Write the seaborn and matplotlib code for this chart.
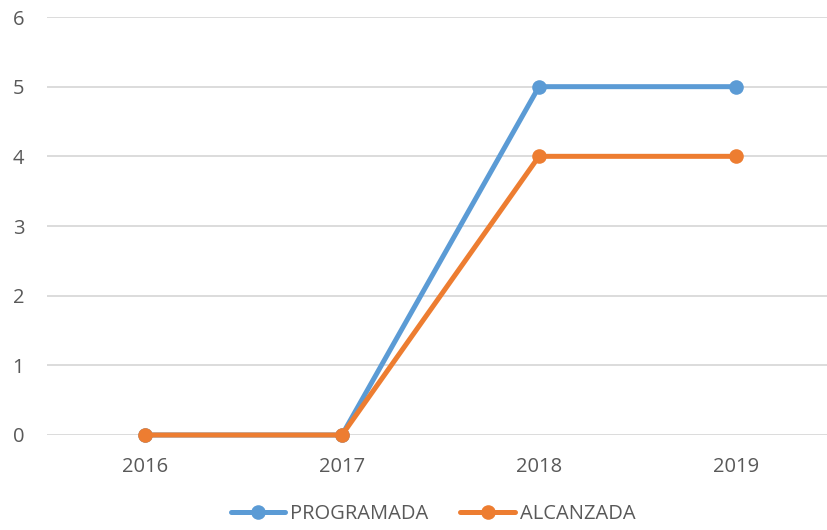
import numpy as np
import pandas as pd
import matplotlib
matplotlib.use('Agg')
import matplotlib.pyplot as plt
import seaborn as sns

sns.set_style('white')
plt.rcParams['font.family'] = ['Open Sans', 'DejaVu Sans']

# datos
anios = ['2016', '2017', '2018', '2019']
programada = [0, 0, 5, 5]
alcanzada = [0, 0, 4, 4]

df = pd.DataFrame({'anio': anios, 'PROGRAMADA': programada, 'ALCANZADA': alcanzada})

azul = '#5B9BD5'
naranja = '#ED7D31'
gris_txt = '#595959'

fig = plt.figure(figsize=(8.27, 5.30), dpi=100)
# area de trazado (se sale un poco por la derecha como en la imagen original)
ax = fig.add_axes([46.5 / 827, 1 - 435 / 530, 788 / 827, 418 / 530])

sns.lineplot(data=df, x='anio', y='PROGRAMADA', ax=ax, color=azul, lw=3.6,
             marker='o', markersize=10.5, markeredgewidth=0, label='PROGRAMADA',
             zorder=3, clip_on=False)
sns.lineplot(data=df, x='anio', y='ALCANZADA', ax=ax, color=naranja, lw=3.6,
             marker='o', markersize=10.5, markeredgewidth=0, label='ALCANZADA',
             zorder=4, clip_on=False)

ax.set_xlim(-0.5, 3.5)
ax.set_ylim(0, 6)
ax.set_yticks(range(0, 7))
ax.grid(axis='y', color='#D9D9D9', lw=1.3)
ax.set_axisbelow(True)
sns.despine(ax=ax, left=True, bottom=True)
ax.set_xlabel('')
ax.set_ylabel('')
ax.tick_params(axis='both', length=0, labelsize=14.5, labelcolor=gris_txt)
ax.tick_params(axis='y', pad=16)
ax.tick_params(axis='x', pad=16)
for s in ax.spines.values():
    s.set_visible(False)

h, l = ax.get_legend_handles_labels()
ax.get_legend().remove()
fig.legend(h, l, loc='center', bbox_to_anchor=(433 / 827, 1 - 514 / 530), ncol=2,
           frameon=False, fontsize=14.5, labelcolor=gris_txt, handlelength=2.7,
           handletextpad=0.25, columnspacing=1.6, borderpad=0.2)

fig.savefig('out.png', dpi=100)
